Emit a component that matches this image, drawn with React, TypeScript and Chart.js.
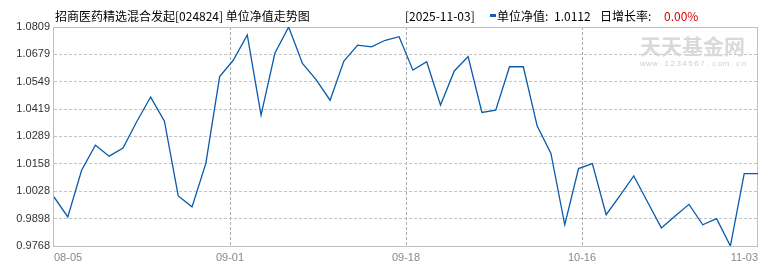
import React, { useEffect, useRef } from 'react';
import { Chart, registerables } from 'chart.js';

Chart.register(...registerables);

const navValues: number[] = [
  1.0001, 0.9906, 1.0128, 1.0247, 1.0195, 1.0234, 1.0360, 1.0476, 1.0361, 1.0006,
  0.9954, 1.0161, 1.0573, 1.0652, 1.0771, 1.0390, 1.0684, 1.0809, 1.0636, 1.0558,
  1.0461, 1.0647, 1.0723, 1.0715, 1.0746, 1.0763, 1.0604, 1.0644, 1.0438, 1.0600,
  1.0668, 1.0403, 1.0414, 1.0620, 1.0620, 1.0339, 1.0208, 0.9869, 1.0136, 1.0160,
  0.9917, 1.0008, 1.0101, 0.9977, 0.9854, 0.9911, 0.9966, 0.9869, 0.9898, 0.9768,
  1.0112, 1.0112,
];
const xTickLabels: string[] = ['08-05', '09-01', '09-18', '10-16', '11-03'];
const yTickLabels: string[] = ['0.9768', '0.9898', '1.0028', '1.0158', '1.0289', '1.0419', '1.0549', '1.0679', '1.0809'];
const fundTitle = '招商医药精选混合发起[024824] 单位净值走势图';
const latestDate = '[2025-11-03]';
const navLabel = '单位净值:';
const latestNav = '1.0112';
const growthLabel = '日增长率:';
const dailyGrowth = '0.00%';
const watermark = '天天基金网';
const watermarkUrl = 'www.1234567.com.cn';

const CJK = '"Noto Sans CJK SC", "Liberation Sans", sans-serif';
const LAT = '"Liberation Sans", "Noto Sans CJK SC", sans-serif';

export default function App() {
  const ref = useRef<HTMLCanvasElement>(null);

  useEffect(() => {
    document.body.style.margin = '0';
    const canvas = ref.current;
    if (!canvas) return;
    const n = navValues.length;
    const xTickPos = xTickLabels.map((_, i) => ((n - 1) * i) / (xTickLabels.length - 1));
    const yTickVals = yTickLabels.map(Number);
    const lastX = xTickLabels.length - 1;
    const lastY = yTickLabels.length - 1;

    const decor = {
      id: 'decor',
      beforeDatasetsDraw(chart: any) {
        const { ctx, chartArea: a } = chart;
        ctx.save();
        // watermark
        ctx.fillStyle = '#d9d9d9';
        ctx.font = `bold 21px ${CJK}`;
        ctx.textBaseline = 'middle';
        ctx.textAlign = 'left';
        ctx.fillText(watermark, 640, 46);
        ctx.fillStyle = '#cfcfcf';
        ctx.font = `8px ${LAT}`;
        ctx.textAlign = 'center';
        const step = 107 / watermarkUrl.length;
        for (let i = 0; i < watermarkUrl.length; i++) {
          ctx.fillText(watermarkUrl[i], 640 + step * (i + 0.5), 64);
        }
        // plot frame
        ctx.strokeStyle = '#c0c0c0';
        ctx.lineWidth = 1;
        ctx.strokeRect(Math.round(a.left) - 0.5, Math.round(a.top) + 0.5, Math.round(a.right - a.left), Math.round(a.bottom - a.top));
        ctx.restore();
      },
      afterDraw(chart: any) {
        const { ctx } = chart;
        ctx.save();
        ctx.textBaseline = 'middle';
        ctx.textAlign = 'left';
        ctx.fillStyle = '#000';
        ctx.font = `12px ${CJK}`;
        ctx.fillText(fundTitle, 55, 16);
        ctx.fillText(latestDate, 405, 16);
        ctx.fillStyle = '#1a5fb4';
        ctx.fillRect(490, 14, 6, 3);
        ctx.fillStyle = '#000';
        ctx.fillText(navLabel, 497, 16);
        ctx.fillText(latestNav, 554, 16);
        ctx.fillText(growthLabel, 600, 16);
        ctx.fillStyle = '#e00000';
        ctx.fillText(dailyGrowth, 664, 16);
        ctx.restore();
      },
    };

    const chart = new Chart(canvas, {
      type: 'line',
      data: {
        datasets: [
          {
            data: navValues.map((v, i) => ({ x: i, y: v })),
            borderColor: '#0a5bab',
            borderWidth: 1.3,
            pointRadius: 0,
            fill: false,
            tension: 0,
          },
        ],
      },
      options: {
        animation: false,
        responsive: false,
        maintainAspectRatio: false,
        layout: { padding: { top: 27, right: 12, left: 0, bottom: 0 } },
        plugins: { legend: { display: false }, tooltip: { enabled: false }, title: { display: false } },
        scales: {
          x: {
            type: 'linear',
            min: 0,
            max: n - 1,
            afterBuildTicks: (s: any) => {
              s.ticks = xTickPos.map((v) => ({ value: v }));
            },
            afterFit: (s: any) => {
              s.height = 24;
            },
            grid: {
              drawTicks: false,
              color: (c: any) => (c.index === 0 || c.index === lastX ? 'rgba(0,0,0,0)' : '#ababab'),
              lineWidth: 1,
            },
            border: { display: false, dash: [3, 2] },
            ticks: {
              autoSkip: false,
              maxRotation: 0,
              align: 'inner',
              padding: 5,
              color: '#888',
              font: { family: LAT, size: 11 },
              callback: (_v: any, i: number) => xTickLabels[i],
            },
          },
          y: {
            type: 'linear',
            min: yTickVals[0],
            max: yTickVals[lastY],
            afterBuildTicks: (s: any) => {
              s.ticks = yTickVals.map((v) => ({ value: v }));
            },
            afterFit: (s: any) => {
              s.width = 54;
            },
            grid: {
              drawTicks: false,
              color: (c: any) => (c.index === 0 || c.index === lastY ? 'rgba(0,0,0,0)' : '#c4c4c4'),
              lineWidth: 1,
            },
            border: { display: false, dash: [3, 2] },
            ticks: {
              autoSkip: false,
              padding: 4,
              color: '#333',
              font: { family: LAT, size: 11 },
              callback: (_v: any, i: number) => yTickLabels[i],
            },
          },
        },
      },
      plugins: [decor],
    } as any);

    return () => chart.destroy();
  }, []);

  return (
    <div style={{ position: 'relative', width: 770, height: 270 }}>
      <canvas ref={ref} width={770} height={270} style={{ display: 'block', width: 770, height: 270 }} />
    </div>
  );
}
